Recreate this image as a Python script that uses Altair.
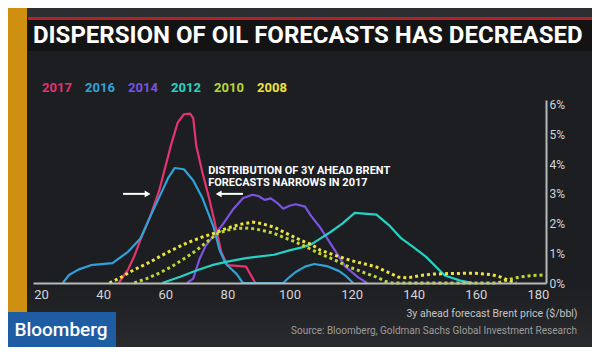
import altair as alt
import pandas as pd

# ---------------- data ----------------
years = ["2017", "2016", "2014", "2012", "2010", "2008"]
colors = ["#e2346e", "#2fa2d8", "#7b52e2", "#25d3c6", "#bcd635", "#ece33c"]
solid_years = ["2017", "2016", "2014", "2012"]
dotted_years = ["2010", "2008"]

price_2017 = [45, 48, 50, 52, 55, 58, 60, 62, 64, 66, 68, 69, 70, 72, 74, 76, 78, 80, 86, 89]
share_2017 = [0, 0.45, 0.9, 1.45, 2.2, 3.1, 3.9, 4.7, 5.4, 5.68, 5.7, 5.55, 4.6, 3.7, 2.9, 2.0, 1.05, 0.6, 0.55, 0]

price_2016 = [27, 29, 32, 36, 43, 48, 52, 55, 59, 61, 63, 66, 69, 72, 75.5, 77.5, 79.5, 83, 85,
              98, 100, 102, 105, 108, 112, 116, 118, 120.5]
share_2016 = [0, 0.27, 0.45, 0.6, 0.67, 1.05, 1.5, 2.2, 3.1, 3.55, 3.87, 3.83, 3.45, 2.85, 1.9, 1.1, 0.65, 0.3, 0,
              0, 0.2, 0.37, 0.55, 0.64, 0.57, 0.4, 0.25, 0]

price_2014 = [67, 69, 71, 73, 76, 78, 80, 82, 85, 88, 90, 92, 94, 96, 98, 100, 102, 105, 107, 110, 114, 118, 122, 125]
share_2014 = [0, 0.15, 0.8, 1.25, 1.65, 1.9, 2.2, 2.5, 2.85, 2.97, 2.93, 2.8, 2.85, 2.7, 2.5, 2.6, 2.65, 2.57, 2.25,
              1.85, 1.2, 0.55, 0.2, 0]

price_2012 = [59, 65, 70, 75, 80, 86, 95, 100, 104, 107, 110, 113, 117, 121, 128, 132, 136, 140, 144, 150, 155, 159]
share_2012 = [0, 0.22, 0.42, 0.6, 0.72, 0.84, 0.95, 1.1, 1.2, 1.3, 1.5, 1.7, 2.0, 2.36, 2.3, 1.95, 1.5, 1.2, 0.88,
              0.25, 0.08, 0]

price_2010 = [50, 54, 58, 62, 67, 70, 73, 77, 80, 83, 87, 91, 95, 99, 102, 106, 110, 114, 119, 124, 128, 131, 133,
              167, 170, 174, 178, 182]
share_2010 = [0, 0.15, 0.33, 0.55, 0.88, 1.1, 1.35, 1.68, 1.78, 1.84, 1.85, 1.78, 1.67, 1.5, 1.38, 1.18, 0.98, 0.8,
              0.55, 0.35, 0.2, 0.05, 0, 0, 0.1, 0.2, 0.25, 0.27]

price_2008 = [42, 45, 50, 55, 58, 62, 67, 72, 76, 80, 84, 88, 91, 95, 100, 104, 107, 110, 115, 120, 125, 128, 132,
              135, 138, 142, 146, 152, 160, 165, 168, 171, 173]
share_2008 = [0, 0.15, 0.45, 0.7, 0.88, 1.1, 1.35, 1.55, 1.68, 1.85, 1.97, 2.05, 2.0, 1.88, 1.62, 1.42, 1.3, 1.1,
              0.92, 0.75, 0.62, 0.54, 0.35, 0.2, 0.17, 0.25, 0.3, 0.32, 0.33, 0.28, 0.2, 0.07, 0]

x_ticks = [20, 40, 60, 80, 100, 120, 140, 160, 180]
y_ticks = [0, 1, 2, 3, 4, 5, 6]

title_text = "DISPERSION OF OIL FORECASTS HAS DECREASED"
note_lines = ["DISTRIBUTION OF 3Y AHEAD BRENT", "FORECASTS NARROWS IN 2017"]
note_price = [73.8, 73.8]
note_share = [3.77, 3.37]
arrow_start = [46.4, 85.0]
arrow_end = [54.5, 77.0]
arrow_tip = [54.3, 77.2]
arrow_level = [3.0, 3.0]
arrow_shape = ["triangle-right", "triangle-left"]
x_title = "3y ahead forecast Brent price ($/bbl)"
source_text = "Source: Bloomberg, Goldman Sachs Global Investment Research"
brand = "Bloomberg"

series = {
    "2017": (price_2017, share_2017),
    "2016": (price_2016, share_2016),
    "2014": (price_2014, share_2014),
    "2012": (price_2012, share_2012),
    "2010": (price_2010, share_2010),
    "2008": (price_2008, share_2008),
}
rows = []
for yr, (px, sh) in series.items():
    for i, (p, s) in enumerate(zip(px, sh)):
        rows.append({"year": yr, "price": p, "share": s, "order": i})
df = pd.DataFrame(rows)

W, H = 513, 183
one = pd.DataFrame({"k": [0]})

x_scale = alt.Scale(domain=[17.4, 182.6], nice=False, zero=False)
y_scale = alt.Scale(domain=[0, 6.16], nice=False)

color_enc = alt.Color(
    "year:N",
    scale=alt.Scale(domain=years, range=colors),
    legend=alt.Legend(
        orient="none", legendX=-4, legendY=-19, direction="horizontal", title=None,
        symbolSize=0, symbolStrokeWidth=0, symbolOpacity=0, labelOffset=0,
        columnPadding=-2.5, labelFont="Roboto", labelFontSize=13, labelFontWeight="bold",
        labelColor=alt.ExprRef(expr="scale('color', datum.value)"),
    ),
)

x_axis = alt.Axis(values=x_ticks, title=x_title, ticks=False, grid=False, labelOverlap=False,
                  domainColor="#b8b8b8", domainWidth=2, labelColor="#d4d4d4",
                  labelFont="Roboto", labelFontSize=13, labelPadding=5,
                  titleFont="Roboto", titleFontSize=10.5, titleFontWeight="normal",
                  titleColor="#c4c4c4", titleAnchor="end", titleAlign="right",
                  titleX=544, titleY=30, titleBaseline="middle", zindex=1)
y_axis = alt.Axis(orient="right", values=y_ticks, labelExpr="datum.value + '%'", title=None,
                  ticks=False, grid=False, labelOverlap=False, domainColor="#b8b8b8", domainWidth=2,
                  labelColor="#d4d4d4", labelFont="Roboto", labelFontSize=12,
                  labelPadding=3, labelAlign="left", labelBaseline="middle", zindex=1)

def xq(field):
    return alt.X(field, scale=x_scale, axis=x_axis, title=x_title)

def yq(field):
    return alt.Y(field, scale=y_scale, axis=y_axis, title=None)

def rect(x, x2, y, y2, color):
    return alt.Chart(one).mark_rect(color=color).encode(
        x=alt.value(x), x2=alt.value(x2), y=alt.value(y), y2=alt.value(y2))

glow = alt.Chart(one).mark_rect(
    color=alt.LinearGradient(gradient="linear", x1=0, x2=0, y1=0, y2=1,
                             stops=[alt.GradientStop(color="#1d1e22", offset=0),
                                    alt.GradientStop(color="#2b2c30", offset=1)])
).encode(x=alt.value(-6), x2=alt.value(567), y=alt.value(185), y2=alt.value(255))

orange = rect(-33, -6, -100, 255, "#cf9012")
topbar = rect(-6, 567, -100, -83, "#2d2e32")
redline = rect(-5, 567, -83, -80, "#b4212b")
band = rect(-5, 567, -80, -49, "#131313")
logo = rect(-27, 83, 212, 247, "#1e5ca4")

title = alt.Chart(pd.DataFrame({"t": [title_text]})).mark_text(
    align="left", baseline="middle", font="Roboto", fontWeight="bold", fontSize=24, color="#ffffff"
).encode(x=alt.value(0), y=alt.value(-64), text="t:N")

brand_t = alt.Chart(pd.DataFrame({"t": [brand]})).mark_text(
    align="center", baseline="middle", font="Roboto", fontWeight=500, fontSize=19, color="#ffffff"
).encode(x=alt.value(28), y=alt.value(230), text="t:N")

source = alt.Chart(pd.DataFrame({"t": [source_text]})).mark_text(
    align="right", baseline="middle", font="Roboto", fontSize=10, color="#9c9c9c"
).encode(x=alt.value(544), y=alt.value(231), text="t:N")

solid = alt.Chart(df).transform_filter(
    alt.FieldOneOfPredicate(field="year", oneOf=solid_years)
).mark_line(strokeWidth=2.2, strokeJoin="round").encode(
    x=xq("price:Q"), y=yq("share:Q"), color=color_enc, order="order:Q", detail="year:N")

dotted = alt.Chart(df).transform_filter(
    alt.FieldOneOfPredicate(field="year", oneOf=dotted_years)
).mark_line(strokeWidth=3, strokeDash=[3, 3]).encode(
    x=xq("price:Q"), y=yq("share:Q"),
    color=color_enc, order="order:Q", detail="year:N")

notes = alt.Chart(pd.DataFrame({"t": note_lines, "price": note_price, "share": note_share})).mark_text(
    align="left", baseline="middle", font="Roboto", fontWeight="bold", fontSize=11, color="#ffffff"
).encode(x=xq("price:Q"), y=yq("share:Q"), text="t:N")

adf = pd.DataFrame({"price": arrow_start, "price_end": arrow_end, "tip": arrow_tip,
                    "share": arrow_level, "shape": arrow_shape})
arrow_lines = alt.Chart(adf).mark_rule(color="#ffffff", strokeWidth=2).encode(
    x=xq("price:Q"), x2="price_end:Q", y=yq("share:Q"))
arrow_heads = alt.Chart(adf).mark_point(filled=True, color="#ffffff", size=45, opacity=1).encode(
    x=xq("tip:Q"), y=yq("share:Q"),
    shape=alt.Shape("shape:N", scale=None))

chart = alt.layer(
    glow, orange, topbar, redline, band, title, solid, dotted, notes, arrow_lines, arrow_heads,
    logo, brand_t, source
).properties(
    width=W, height=H,
    autosize=alt.AutoSizeParams(type="none"),
    padding={"left": 25, "top": 92, "right": 46, "bottom": 64},
    background="#1d1e22",
).configure_view(stroke=None)

chart.save("out.html", embed_options={"renderer": "svg", "actions": False})
